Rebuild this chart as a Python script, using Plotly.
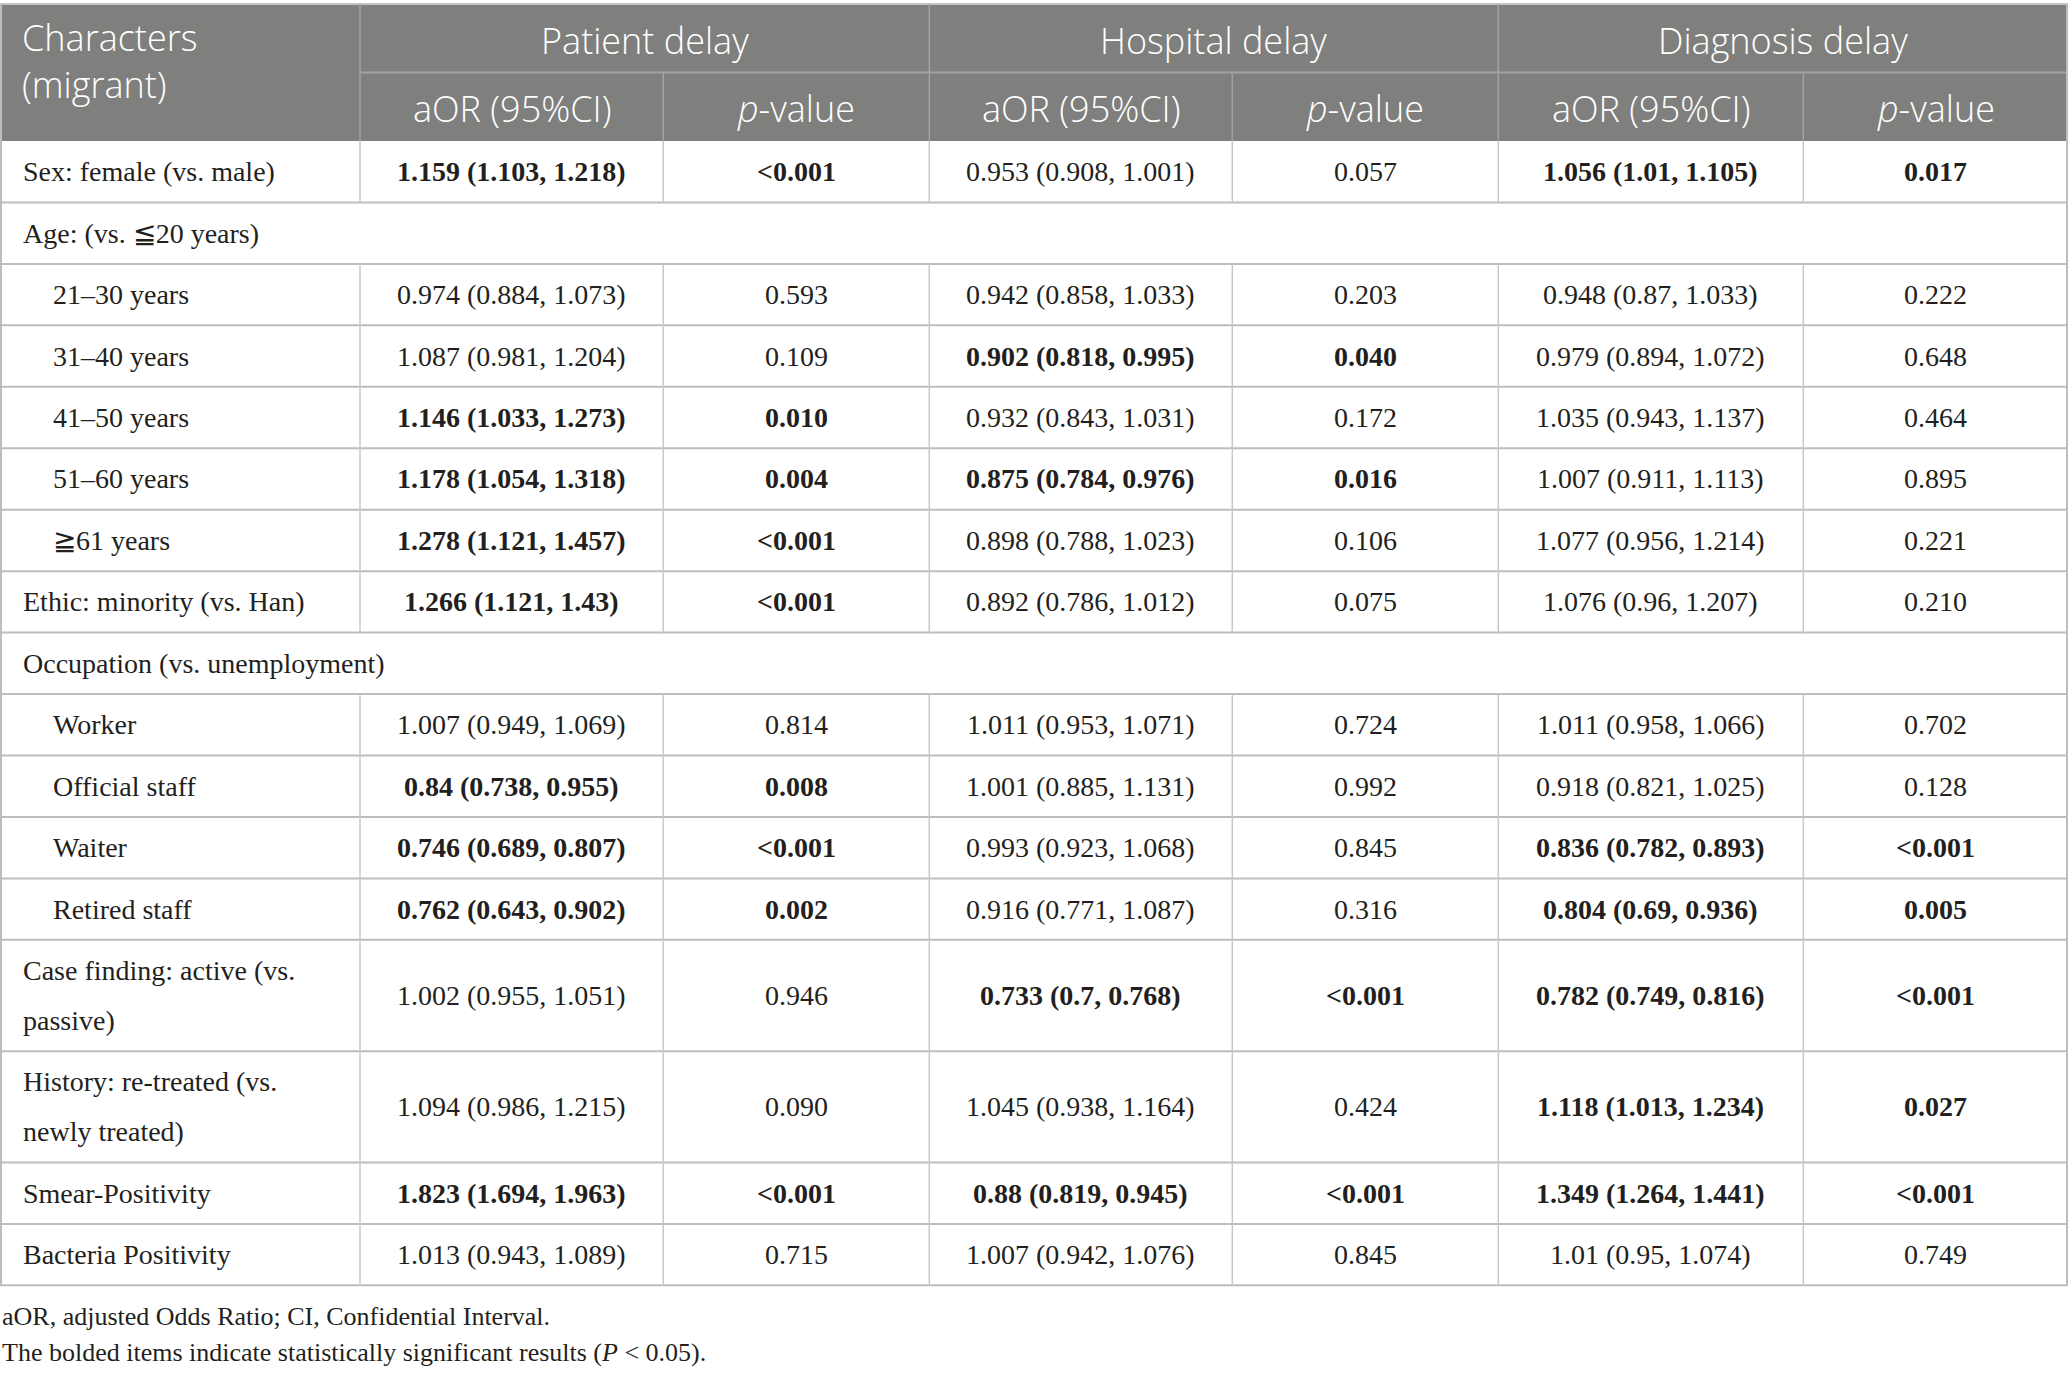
import plotly.graph_objects as go

# Row labels (None values mark group header rows spanning the whole table)
labels = [
    "Sex: female (vs. male)",
    "Age: (vs. ≦20 years)",
    "21–30 years",
    "31–40 years",
    "41–50 years",
    "51–60 years",
    "≧61 years",
    "Ethic: minority (vs. Han)",
    "Occupation (vs. unemployment)",
    "Worker",
    "Official staff",
    "Waiter",
    "Retired staff",
    "Case finding: active (vs.|passive)",
    "History: re-treated (vs.|newly treated)",
    "Smear-Positivity",
    "Bacteria Positivity",
]
indented = [False, False, True, True, True, True, True, False, False,
            True, True, True, True, False, False, False, False]

patient_aor = [
    "1.159 (1.103, 1.218)", None, "0.974 (0.884, 1.073)", "1.087 (0.981, 1.204)",
    "1.146 (1.033, 1.273)", "1.178 (1.054, 1.318)", "1.278 (1.121, 1.457)",
    "1.266 (1.121, 1.43)", None, "1.007 (0.949, 1.069)", "0.84 (0.738, 0.955)",
    "0.746 (0.689, 0.807)", "0.762 (0.643, 0.902)", "1.002 (0.955, 1.051)",
    "1.094 (0.986, 1.215)", "1.823 (1.694, 1.963)", "1.013 (0.943, 1.089)",
]
patient_p = [
    "<0.001", None, "0.593", "0.109", "0.010", "0.004", "<0.001", "<0.001", None,
    "0.814", "0.008", "<0.001", "0.002", "0.946", "0.090", "<0.001", "0.715",
]
hospital_aor = [
    "0.953 (0.908, 1.001)", None, "0.942 (0.858, 1.033)", "0.902 (0.818, 0.995)",
    "0.932 (0.843, 1.031)", "0.875 (0.784, 0.976)", "0.898 (0.788, 1.023)",
    "0.892 (0.786, 1.012)", None, "1.011 (0.953, 1.071)", "1.001 (0.885, 1.131)",
    "0.993 (0.923, 1.068)", "0.916 (0.771, 1.087)", "0.733 (0.7, 0.768)",
    "1.045 (0.938, 1.164)", "0.88 (0.819, 0.945)", "1.007 (0.942, 1.076)",
]
hospital_p = [
    "0.057", None, "0.203", "0.040", "0.172", "0.016", "0.106", "0.075", None,
    "0.724", "0.992", "0.845", "0.316", "<0.001", "0.424", "<0.001", "0.845",
]
diagnosis_aor = [
    "1.056 (1.01, 1.105)", None, "0.948 (0.87, 1.033)", "0.979 (0.894, 1.072)",
    "1.035 (0.943, 1.137)", "1.007 (0.911, 1.113)", "1.077 (0.956, 1.214)",
    "1.076 (0.96, 1.207)", None, "1.011 (0.958, 1.066)", "0.918 (0.821, 1.025)",
    "0.836 (0.782, 0.893)", "0.804 (0.69, 0.936)", "0.782 (0.749, 0.816)",
    "1.118 (1.013, 1.234)", "1.349 (1.264, 1.441)", "1.01 (0.95, 1.074)",
]
diagnosis_p = [
    "0.017", None, "0.222", "0.648", "0.464", "0.895", "0.221", "0.210", None,
    "0.702", "0.128", "<0.001", "0.005", "<0.001", "0.027", "<0.001", "0.749",
]

group_titles = ["Patient delay", "Hospital delay", "Diagnosis delay"]
sub_titles = ["aOR (95%CI)", "<i>p</i>-value"]
corner_title = "Characters<br>(migrant)"
notes = [
    "aOR, adjusted Odds Ratio; CI, Confidential Interval.",
    "The bolded items indicate statistically significant results (<i>P</i> < 0.05).",
]

# Layout (pixels of the 2068 x 1375 page)
W, H = 2068, 1375
col_edges = [0, 360, 663.3, 929.3, 1232.3, 1498.3, 1803.3, W]
top, head_mid, head_bot = 4, 72.5, 141
single_h, double_h = 61.45, 111.3

HEAD_BG = "#7f807e"
HEAD_LINE = "#a2a3a1"
BODY_LINE = "#bdbdbd"
TEXT = "#231f20"
SERIF = "Liberation Serif"
SANS = "Open Sans"


def significant(p):
    if p is None:
        return False
    if p.startswith("<"):
        return True
    return float(p) < 0.05


row_tops = [head_bot]
for lab in labels:
    row_tops.append(row_tops[-1] + (double_h if "|" in lab else single_h))

shapes = []
annotations = []


def hline(y, x0, x1, color, width):
    shapes.append(dict(type="line", xref="x", yref="y", x0=x0, x1=x1, y0=y, y1=y,
                       line=dict(color=color, width=width), layer="above"))


def vline(x, y0, y1, color, width):
    shapes.append(dict(type="line", xref="x", yref="y", x0=x, x1=x, y0=y0, y1=y1,
                       line=dict(color=color, width=width), layer="above"))


def text(x, y, s, size, family, color=TEXT, anchor="center", weight="normal"):
    annotations.append(dict(x=x, y=y, xref="x", yref="y", text=s, showarrow=False,
                            xanchor=anchor, yanchor="middle", align="left",
                            font=dict(size=size, family=family, color=color,
                                      weight=weight)))


# Header block
shapes.append(dict(type="rect", xref="x", yref="y", x0=0, x1=W, y0=top, y1=head_bot,
                   fillcolor=HEAD_BG, line=dict(width=0), layer="below"))
hline(top, 0, W, "#c4c4c4", 2)
hline(head_mid, col_edges[1], W, HEAD_LINE, 2)
for i, x in enumerate(col_edges[1:-1]):
    y0 = top if i % 2 == 0 else head_mid
    vline(x, y0, head_bot, HEAD_LINE, 1.5)

text(20, 61, corner_title, 36, SANS, "white", "left", 300)
for g, title in enumerate(group_titles):
    xc = (col_edges[1 + 2 * g] + col_edges[3 + 2 * g]) / 2
    text(xc, 40, title, 36, SANS, "white", weight=300)
    for k, sub in enumerate(sub_titles):
        c = 1 + 2 * g + k
        text((col_edges[c] + col_edges[c + 1]) / 2, 108, sub, 36, SANS, "white",
             weight=300)

# Body
columns = [patient_aor, patient_p, hospital_aor, hospital_p, diagnosis_aor, diagnosis_p]
pvals = [patient_p, hospital_p, diagnosis_p]
for r, lab in enumerate(labels):
    y0, y1 = row_tops[r], row_tops[r + 1]
    yc = (y0 + y1) / 2
    hline(y1, 0, W, BODY_LINE, 2)
    x_lab = 50.5 if indented[r] else 20.5
    parts = lab.split("|")
    if len(parts) == 1:
        text(x_lab, yc, lab, 28, SERIF, anchor="left")
    else:
        text(x_lab, yc - 25, parts[0], 28, SERIF, anchor="left")
        text(x_lab, yc + 25, parts[1], 28, SERIF, anchor="left")
    if patient_aor[r] is None:
        continue
    for x in col_edges[1:-1]:
        vline(x, y0, y1, "#c8c8c8", 1.5)
    for c, col in enumerate(columns):
        s = col[r]
        if significant(pvals[c // 2][r]):
            s = f"<b>{s}</b>"
        text((col_edges[c + 1] + col_edges[c + 2]) / 2, yc, s, 28, SERIF)

# Outer borders
vline(1, top, row_tops[-1], BODY_LINE, 2)
vline(W - 1, top, row_tops[-1], BODY_LINE, 2)

# Footnotes
text(0, 1316, notes[0], 26, SERIF, anchor="left")
text(0, 1352, notes[1], 26, SERIF, anchor="left")

fig = go.Figure()
fig.update_layout(
    width=W,
    height=H,
    margin=dict(l=0, r=0, t=0, b=0),
    paper_bgcolor="white",
    plot_bgcolor="white",
    showlegend=False,
    xaxis=dict(range=[0, W], visible=False, fixedrange=True),
    yaxis=dict(range=[H, 0], visible=False, fixedrange=True),
    shapes=shapes,
    annotations=annotations,
)

fig.write_html(
    "out.html",
    config={"displayModeBar": False},
    post_script="document.body.style.margin = '0';",
)
